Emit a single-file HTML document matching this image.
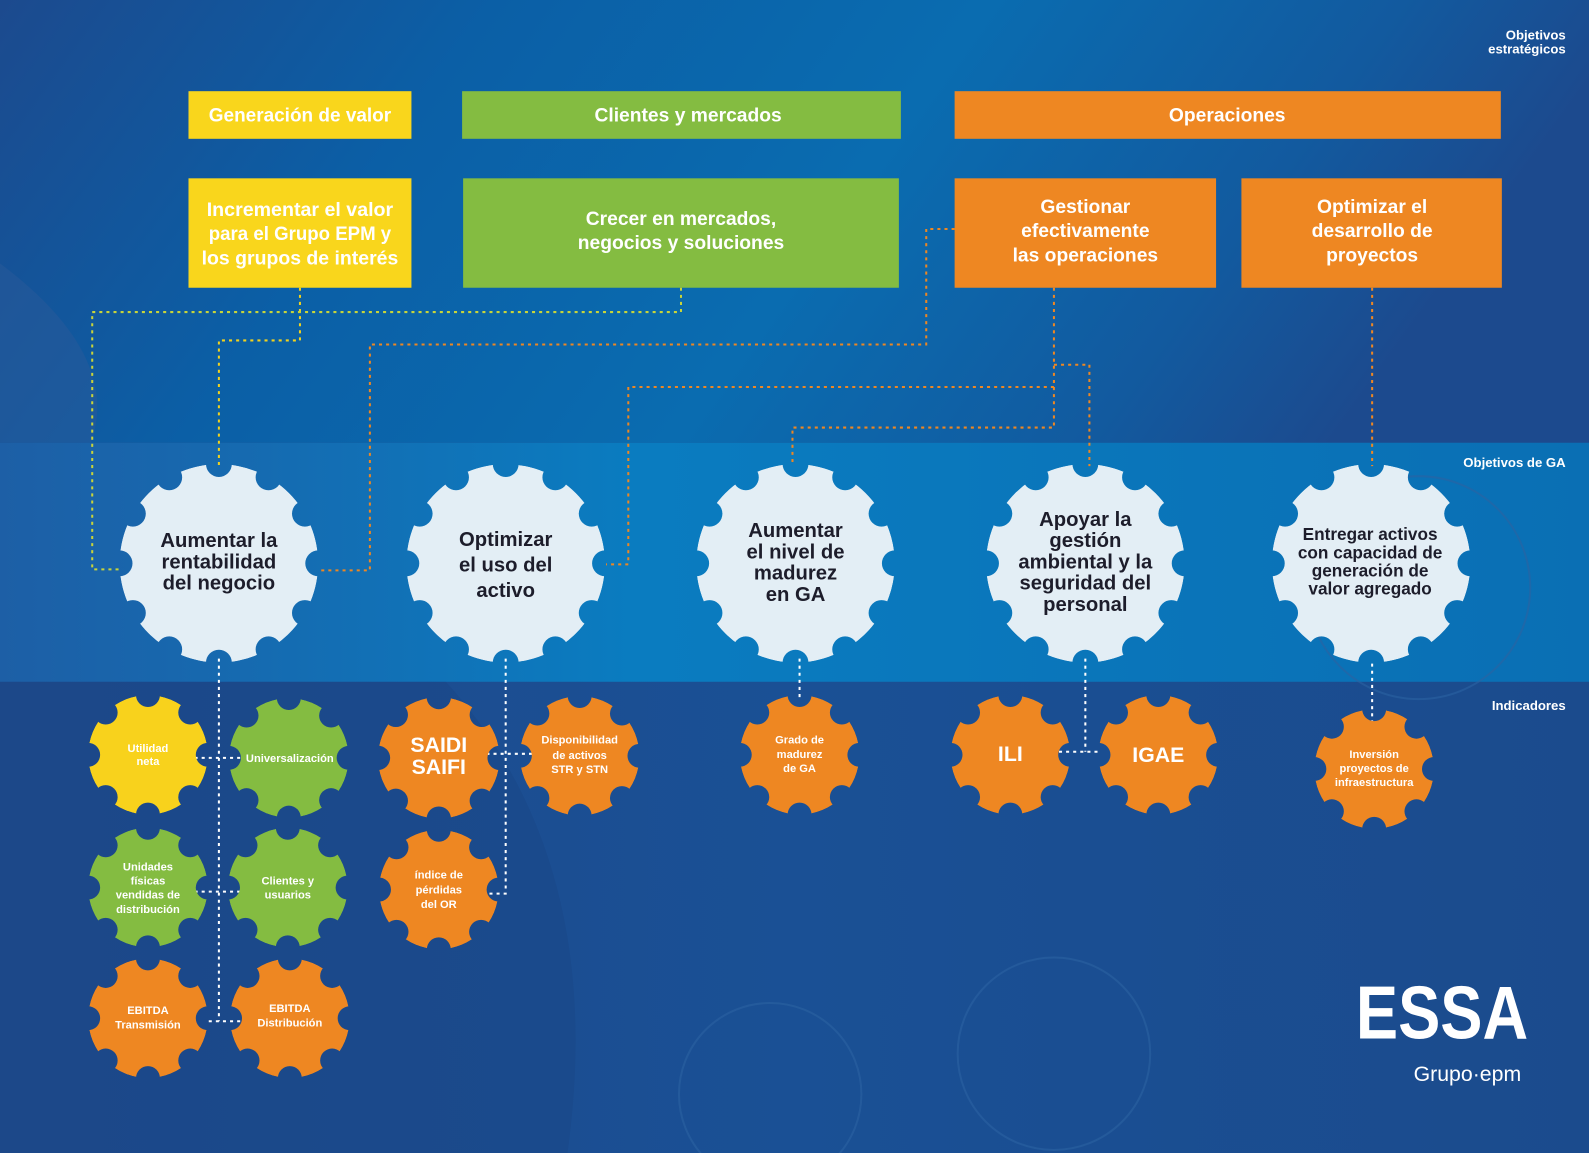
<!DOCTYPE html>
<html><head><meta charset="utf-8"><style>
html,body{margin:0;padding:0;background:#1b4a8c}
svg{display:block}
text{font-family:"Liberation Sans",sans-serif;font-weight:bold}
</style></head><body>
<svg width="1589" height="1153" viewBox="0 0 1568 1138" preserveAspectRatio="none" xmlns="http://www.w3.org/2000/svg">
<defs>
<linearGradient id="top" x1="0" y1="0" x2="1" y2="0.2">
<stop offset="0" stop-color="#1c4a8e"/><stop offset="0.3" stop-color="#0b5fa6"/><stop offset="0.6" stop-color="#0a6cb0"/><stop offset="0.85" stop-color="#125a9f"/><stop offset="1" stop-color="#1c4a8e"/></linearGradient>
<linearGradient id="band" x1="0" y1="0" x2="1" y2="0">
<stop offset="0" stop-color="#1d5fa6"/><stop offset="0.4" stop-color="#0a7cc0"/><stop offset="1" stop-color="#0a6fb4"/></linearGradient>
<linearGradient id="bot" x1="0" y1="0" x2="1" y2="0">
<stop offset="0" stop-color="#1e4a8c"/><stop offset="0.5" stop-color="#1a5095"/><stop offset="1" stop-color="#1b4b8d"/></linearGradient>
<mask id="mb" maskUnits="userSpaceOnUse" x="-120" y="-120" width="240" height="240">
<circle r="100" fill="#fff"/>
<g fill="#000">
<circle cx="100" cy="0" r="13"/><circle cx="86.6" cy="50" r="13"/><circle cx="50" cy="86.6" r="13"/><circle cx="0" cy="100" r="13"/><circle cx="-50" cy="86.6" r="13"/><circle cx="-86.6" cy="50" r="13"/><circle cx="-100" cy="0" r="13"/><circle cx="-86.6" cy="-50" r="13"/><circle cx="-50" cy="-86.6" r="13"/><circle cx="0" cy="-100" r="13"/><circle cx="50" cy="-86.6" r="13"/><circle cx="86.6" cy="-50" r="13"/>
</g></mask>
<mask id="ms" maskUnits="userSpaceOnUse" x="-120" y="-120" width="240" height="240">
<circle r="100" fill="#fff"/>
<g fill="#000">
<circle cx="100" cy="0" r="20"/><circle cx="70.7" cy="70.7" r="20"/><circle cx="0" cy="100" r="20"/><circle cx="-70.7" cy="70.7" r="20"/><circle cx="-100" cy="0" r="20"/><circle cx="-70.7" cy="-70.7" r="20"/><circle cx="0" cy="-100" r="20"/><circle cx="70.7" cy="-70.7" r="20"/>
</g></mask>
<g id="gb"><circle r="100" mask="url(#mb)"/></g>
<g id="gs"><circle r="100" mask="url(#ms)"/></g>
</defs>
<rect width="1568" height="437" fill="url(#top)"/>
<path d="M0 260 Q120 350 90 437 L0 437Z" fill="#2a5a9a" opacity="0.5"/>
<rect y="437" width="1568" height="236" fill="url(#band)"/>
<rect y="673" width="1568" height="465" fill="url(#bot)"/>
<path d="M440 673 Q600 850 560 1138 L0 1138 L0 673Z" fill="#1a4686" opacity="0.5"/>
<g fill="none" stroke="#2c63a2" stroke-width="2" opacity="0.6">
<circle cx="1040" cy="1040" r="95"/><circle cx="760" cy="1080" r="90"/><circle cx="1400" cy="580" r="110"/>
</g>

<rect x="186" y="90" width="220" height="47" fill="#f9d61c"/>
<rect x="456" y="90" width="433" height="47" fill="#84bc41"/>
<rect x="942" y="90" width="539" height="47" fill="#ee8722"/>
<g fill="#fff" font-size="19" text-anchor="middle">
<text x="296" y="120" textLength="180" lengthAdjust="spacingAndGlyphs">Generación de valor</text>
<text x="679" y="120">Clientes y mercados</text>
<text x="1211" y="120">Operaciones</text>
</g>
<rect x="186" y="176" width="220" height="108" fill="#f9d61c"/>
<rect x="457" y="176" width="430" height="108" fill="#84bc41"/>
<rect x="942" y="176" width="258" height="108" fill="#ee8722"/>
<rect x="1225" y="176" width="257" height="108" fill="#ee8722"/>
<g fill="#fff" font-size="19" text-anchor="middle">
<text x="296" y="213" textLength="184" lengthAdjust="spacingAndGlyphs">Incrementar el valor</text><text x="296" y="237" textLength="180" lengthAdjust="spacingAndGlyphs">para el Grupo EPM y</text><text x="296" y="261" textLength="194" lengthAdjust="spacingAndGlyphs">los  grupos de interés</text>
<text x="672" y="222">Crecer en mercados,</text><text x="672" y="246">negocios y soluciones</text>
<text x="1071" y="210">Gestionar</text><text x="1071" y="234">efectivamente</text><text x="1071" y="258">las operaciones</text>
<text x="1354" y="210">Optimizar el</text><text x="1354" y="234">desarrollo de</text><text x="1354" y="258">proyectos</text>
</g>
<g fill="#fff" font-size="13" text-anchor="end">
<text x="1545" y="39">Objetivos</text><text x="1545" y="53">estratégicos</text>
<text x="1545" y="461">Objetivos de GA</text>
<text x="1545" y="701">Indicadores</text>
</g>

<g fill="none" stroke-width="2" stroke-dasharray="3 4">
<polyline stroke="#f2d21e" points="296,284 296,336 216,336 216,460"/>
<polyline stroke="#c8d43a" points="672,284 672,308 91,308 91,562 118,562"/>
<polyline stroke="#ee8722" points="942,226 914,226 914,340 365,340 365,563 314,563"/>
<polyline stroke="#ee8722" points="1040,284 1040,422 782,422 782,460"/>
<polyline stroke="#ee8722" points="1040,360 1075,360 1075,460"/>
<polyline stroke="#ee8722" points="1040,382 620,382 620,557 598,557"/>
<polyline stroke="#ee8722" points="1354,284 1354,460"/>
<g stroke="#fff">
<polyline points="216,650 216,1008"/>
<polyline points="192,748 240,748"/>
<polyline points="192,880 240,880"/>
<polyline points="206,1008 240,1008"/>
<polyline points="499,650 499,882 480,882"/>
<polyline points="480,744 525,744"/>
<polyline points="789,650 789,690"/>
<polyline points="1071,650 1071,742"/>
<polyline points="1045,742 1085,742"/>
<polyline points="1354,655 1354,712"/>
</g></g>

<g fill="#e3eef5">
<use href="#gb" transform="translate(216,556) scale(0.98)"/>
<use href="#gb" transform="translate(499,556) scale(0.98)"/>
<use href="#gb" transform="translate(785,556) scale(0.98)"/>
<use href="#gb" transform="translate(1071,556) scale(0.98)"/>
<use href="#gb" transform="translate(1353,556) scale(0.98)"/>
</g>
<g fill="#1d1d2b" font-size="20" text-anchor="middle">
<text x="216" y="540">Aumentar la</text><text x="216" y="561">rentabilidad</text><text x="216" y="582">del negocio</text>
<text x="499" y="539">Optimizar</text><text x="499" y="564">el uso del</text><text x="499" y="589">activo</text>
<text x="785" y="530">Aumentar</text><text x="785" y="551">el nivel de</text><text x="785" y="572">madurez</text><text x="785" y="593">en GA</text>
<text x="1071" y="519">Apoyar la</text><text x="1071" y="540">gestión</text><text x="1071" y="561">ambiental y la</text><text x="1071" y="582">seguridad del</text><text x="1071" y="603">personal</text>
</g>
<g fill="#1d1d2b" font-size="17" text-anchor="middle">
<text x="1352" y="533">Entregar activos</text><text x="1352" y="551">con capacidad de</text><text x="1352" y="569">generación de</text><text x="1352" y="587">valor agregado</text>
</g>

<use href="#gs" fill="#f8d21c" transform="translate(146,745) scale(0.59)"/>
<use href="#gs" fill="#84bc41" transform="translate(285,748) scale(0.59)"/>
<use href="#gs" fill="#84bc41" transform="translate(146,876) scale(0.59)"/>
<use href="#gs" fill="#84bc41" transform="translate(284,876) scale(0.59)"/>
<use href="#gs" fill="#ee8722" transform="translate(146,1005) scale(0.59)"/>
<use href="#gs" fill="#ee8722" transform="translate(286,1005) scale(0.59)"/>
<use href="#gs" fill="#ee8722" transform="translate(433,748) scale(0.6)"/>
<use href="#gs" fill="#ee8722" transform="translate(572,746) scale(0.59)"/>
<use href="#gs" fill="#ee8722" transform="translate(433,878) scale(0.59)"/>
<use href="#gs" fill="#ee8722" transform="translate(789,745) scale(0.59)"/>
<use href="#gs" fill="#ee8722" transform="translate(997,745) scale(0.59)"/>
<use href="#gs" fill="#ee8722" transform="translate(1143,745) scale(0.59)"/>
<use href="#gs" fill="#ee8722" transform="translate(1356,759) scale(0.59)"/>
<g fill="#fff" font-size="11" text-anchor="middle">
<text x="146" y="742">Utilidad</text><text x="146" y="755">neta</text>
<text x="286" y="752">Universalización</text>
<text x="146" y="859">Unidades</text><text x="146" y="873">físicas</text><text x="146" y="887">vendidas de</text><text x="146" y="901">distribución</text>
<text x="284" y="873">Clientes y</text><text x="284" y="887">usuarios</text>
<text x="146" y="1001">EBITDA</text><text x="146" y="1015">Transmisión</text>
<text x="286" y="999">EBITDA</text><text x="286" y="1013">Distribución</text>
<text x="572" y="734">Disponibilidad</text><text x="572" y="749">de activos</text><text x="572" y="763">STR y STN</text>
<text x="433" y="867">índice de</text><text x="433" y="882">pérdidas</text><text x="433" y="896">del OR</text>
<text x="789" y="734">Grado de</text><text x="789" y="748">madurez</text><text x="789" y="762">de GA</text>
<text x="1356" y="748">Inversión</text><text x="1356" y="762">proyectos de</text><text x="1356" y="776">infraestructura</text>
</g>
<g fill="#fff" font-size="21" text-anchor="middle">
<text x="433" y="742">SAIDI</text><text x="433" y="764">SAIFI</text>
<text x="997" y="751">ILI</text>
<text x="1143" y="752">IGAE</text>
</g>

<text x="1423" y="1025" fill="#fff" font-size="74" text-anchor="middle" textLength="170" lengthAdjust="spacingAndGlyphs" style="font-weight:900">ESSA</text>
<text x="1448" y="1067" fill="#fff" font-size="21" text-anchor="middle" style="font-weight:normal">Grupo·epm</text>
</svg>
</body></html>
